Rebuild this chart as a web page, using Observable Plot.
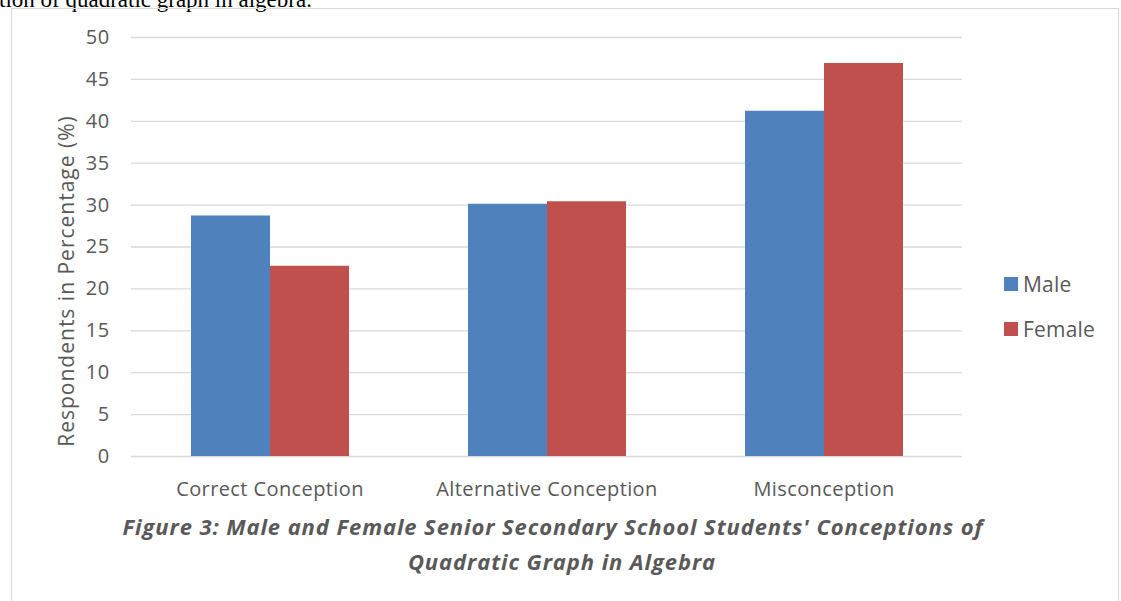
<!DOCTYPE html>
<html>
<head>
<meta charset="utf-8">
<script src="https://cdn.jsdelivr.net/npm/d3@7"></script>
<script src="https://cdn.jsdelivr.net/npm/@observablehq/plot@0.6"></script>
<style>
  html, body { margin: 0; padding: 0; background: #fff; }
  #page { position: relative; width: 1121px; height: 601px; overflow: hidden; font-family: "Open Sans", sans-serif; }
  #toptext { position: absolute; left: -1px; top: -13px; font-family: "Liberation Serif", "Times New Roman", serif; font-size: 23px; color: #000; white-space: nowrap; }
  #frame { position: absolute; left: 11px; top: 8px; width: 1108px; height: 700px; border: 1.5px solid #d9d9d9; box-sizing: border-box; }
  #chart { position: absolute; left: 0; top: 0; }
  #chart svg text { letter-spacing: 0.4px; }
  #ylabel { position: absolute; left: 66px; top: 281px; transform: translate(-50%, -50%) rotate(-90deg); font-size: 21px; letter-spacing: 1px; color: #595959; white-space: nowrap; }
  .leg { position: absolute; font-size: 21px; letter-spacing: 0.2px; color: #595959; white-space: nowrap; display: flex; align-items: center; }
  .sw { display: inline-block; width: 14px; height: 14px; margin-right: 5px; }
  .cap { position: absolute; transform: translateX(-50%); font-size: 22px; letter-spacing: 0.9px; font-weight: bold; font-style: italic; color: #595959; white-space: nowrap; }
</style>
</head>
<body>
<div id="page">
  <div id="toptext">tion of quadratic graph in algebra.</div>
  <div id="frame"></div>
  <div id="chart"></div>
  <div id="ylabel">Respondents in Percentage (%)</div>
  <div id="legend"></div>
  <div class="cap" id="cap1" style="left:553px; top:511px;">Figure 3: Male and Female Senior Secondary School Students' Conceptions of</div>
  <div class="cap" id="cap2" style="left:562px; top:546px;">Quadratic Graph in Algebra</div>
</div>
<script>
const categories = ["Correct Conception", "Alternative Conception", "Misconception"];
const series = ["Male", "Female"];
const maleValues = [28.7, 30.1, 41.2];
const femaleValues = [22.7, 30.4, 46.9];
const yTicks = [0, 5, 10, 15, 20, 25, 30, 35, 40, 45, 50];
const colors = ["#4F81BD", "#C0504D"];

const data = [];
categories.forEach((c, i) => {
  data.push({category: c, sex: "Male", value: maleValues[i]});
  data.push({category: c, sex: "Female", value: femaleValues[i]});
});

const chart = Plot.plot({
  width: 1121,
  height: 520,
  marginTop: 37,
  marginBottom: 64,
  marginLeft: 130,
  marginRight: 159,
  style: {fontFamily: "Open Sans, sans-serif", fontSize: "20px", color: "#595959", background: "transparent"},
  fx: {domain: categories, padding: 0, label: null, tickSize: 0, tickPadding: 25, axis: "bottom"},
  x: {domain: series, paddingInner: 0, paddingOuter: 0.742, axis: null},
  y: {domain: [0, 50], ticks: yTicks, tickSize: 0, tickPadding: 22, label: null},
  color: {domain: series, range: colors},
  marks: [
    Plot.ruleY(yTicks, {stroke: "#d9d9d9", strokeWidth: 1.3}),
    Plot.barY(data, {fx: "category", x: "sex", y: "value", fill: "sex"})
  ]
});
document.getElementById("chart").appendChild(chart);

const legend = document.getElementById("legend");
series.forEach((s, i) => {
  const d = document.createElement("div");
  d.className = "leg";
  d.style.left = "1004px";
  d.style.top = (270 + i * 45) + "px";
  d.innerHTML = `<span class="sw" style="background:${colors[i]}"></span>${s}`;
  legend.appendChild(d);
});
</script>
</body>
</html>
